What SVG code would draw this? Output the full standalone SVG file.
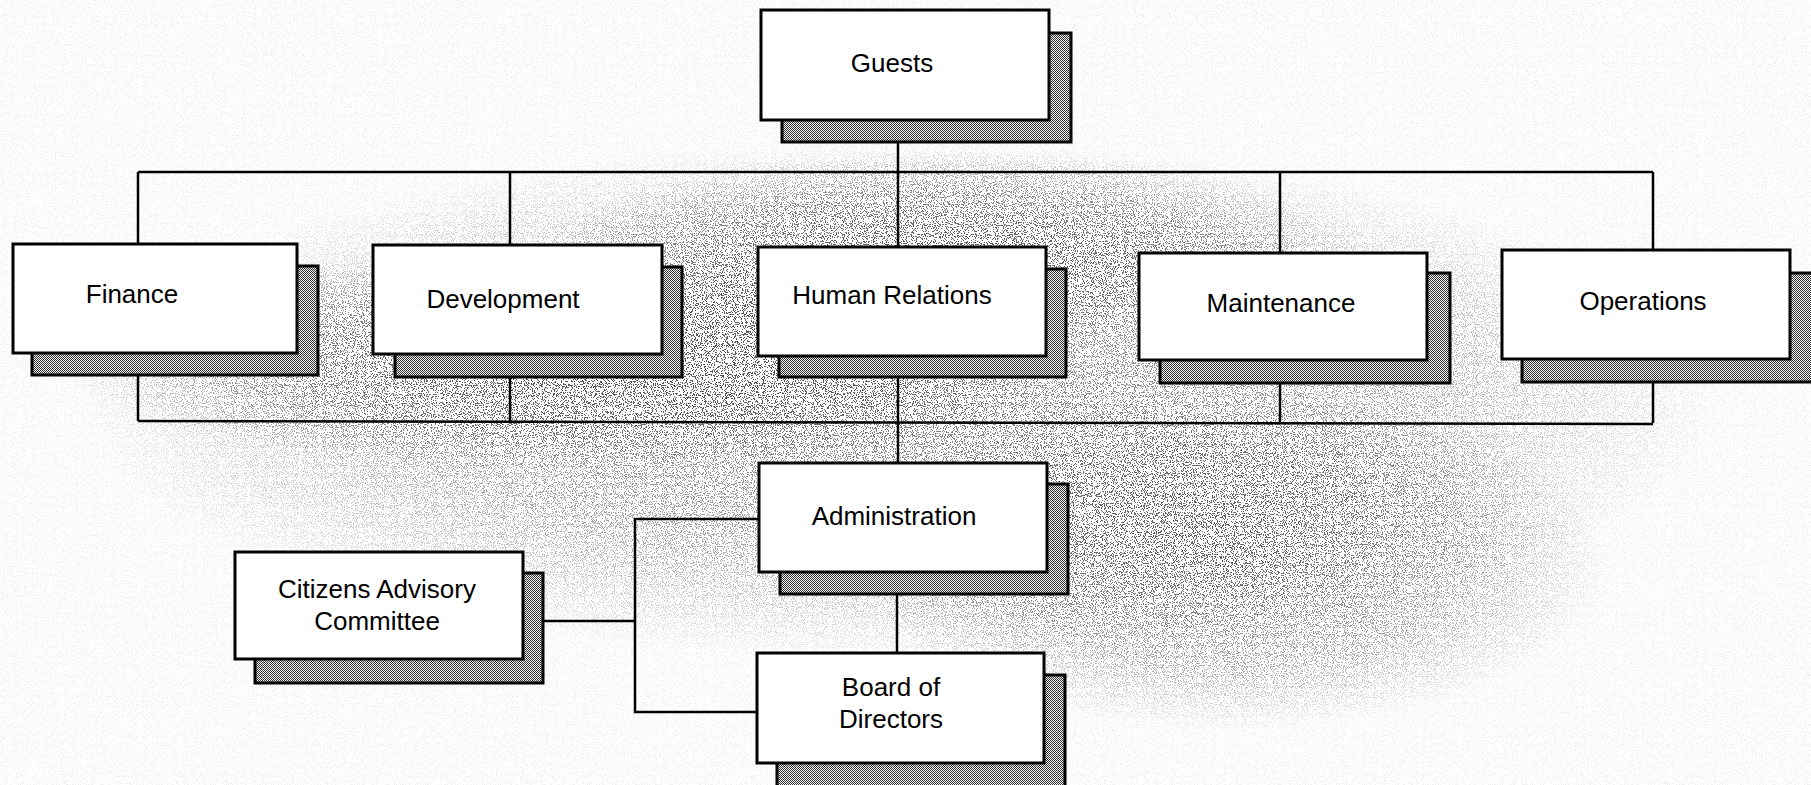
<svg xmlns="http://www.w3.org/2000/svg" width="1811" height="785" viewBox="0 0 1811 785">
  <defs>
    <pattern id="dither" width="2" height="2" patternUnits="userSpaceOnUse">
      <rect width="2" height="2" fill="#f4f4f4"/>
      <rect x="0" y="0" width="1" height="1" fill="#333"/>
      <rect x="1" y="1" width="1" height="1" fill="#333"/>
    </pattern>
    <filter id="speckle" filterUnits="userSpaceOnUse" x="0" y="0" width="1811" height="785">
      <feTurbulence type="fractalNoise" baseFrequency="0.9" numOctaves="1" seed="7" result="n"/>
      <feColorMatrix in="n" type="matrix" values="0 0 0 0 0  0 0 0 0 0  0 0 0 0 0  1.6 0 0 0 -0.3" result="a"/>
      <feComponentTransfer>
        <feFuncA type="discrete" tableValues="0 0 0 0 0 0 1 1 1 1"/>
      </feComponentTransfer>
    </filter>
    <radialGradient id="bgfade" cx="0.5" cy="0.5" r="0.5">
      <stop offset="0" stop-color="#fff" stop-opacity="0.5"/>
      <stop offset="0.6" stop-color="#fff" stop-opacity="0.3"/>
      <stop offset="1" stop-color="#fff" stop-opacity="0"/>
    </radialGradient>
    <mask id="bgmask">
      <rect width="1811" height="785" fill="#000"/>
      <rect width="1811" height="785" fill="#fff" fill-opacity="0.05"/>
      <ellipse cx="900" cy="400" rx="820" ry="260" fill="url(#bgfade)"/>
      <ellipse cx="1230" cy="560" rx="380" ry="170" fill="url(#bgfade)"/>
      <ellipse cx="550" cy="360" rx="500" ry="110" fill="url(#bgfade)"/>
      <ellipse cx="950" cy="250" rx="400" ry="100" fill="url(#bgfade)"/>
    </mask>
  </defs>
  <style>
    .box { fill: #ffffff; stroke: #000; stroke-width: 3; }
    .shadow { fill: url(#dither); stroke: #000; stroke-width: 3; }
    .lbl { font-family: "Liberation Sans", Arial, sans-serif; font-size: 26px; fill: #000; text-anchor: middle; }
    .conn { fill: none; stroke: #000; stroke-width: 2.5; }
  </style>

  <rect width="1811" height="785" fill="#ffffff"/>
  <g mask="url(#bgmask)">
    <rect width="1811" height="785" fill="#000" filter="url(#speckle)"/>
  </g>

  <g id="connectors">
    <line class="conn" x1="898" y1="142" x2="898" y2="247"/>
    <line class="conn" x1="138" y1="172" x2="1653" y2="172"/>
    <line class="conn" x1="138" y1="172" x2="138" y2="244"/>
    <line class="conn" x1="510" y1="172" x2="510" y2="245"/>
    <line class="conn" x1="1280" y1="172" x2="1280" y2="253"/>
    <line class="conn" x1="1653" y1="172" x2="1653" y2="250"/>
    <line class="conn" x1="138" y1="375" x2="138" y2="421"/>
    <line class="conn" x1="510" y1="377" x2="510" y2="421"/>
    <line class="conn" x1="1280" y1="383" x2="1280" y2="423"/>
    <line class="conn" x1="1653" y1="382" x2="1653" y2="423"/>
    <polyline class="conn" points="138,421 1653,424"/>
    <line class="conn" x1="898" y1="377" x2="898" y2="463"/>
    <line class="conn" x1="897" y1="594" x2="897" y2="653"/>
    <line class="conn" x1="543" y1="621" x2="635" y2="621"/>
    <polyline class="conn" points="759,519 635,519 635,712 757,712"/>
  </g>

  <g id="guests">
    <rect class="shadow" x="782" y="33" width="289" height="109"/>
    <rect class="box" x="761" y="10" width="288" height="110"/>
    <text class="lbl" x="892" y="72">Guests</text>
  </g>
  <g id="finance">
    <rect class="shadow" x="32" y="266" width="286" height="109"/>
    <rect class="box" x="13" y="244" width="284" height="109"/>
    <text class="lbl" x="132" y="303">Finance</text>
  </g>
  <g id="development">
    <rect class="shadow" x="395" y="267" width="287" height="110"/>
    <rect class="box" x="373" y="245" width="289" height="109"/>
    <text class="lbl" x="503" y="308">Development</text>
  </g>
  <g id="human-relations">
    <rect class="shadow" x="779" y="269" width="287" height="108"/>
    <rect class="box" x="758" y="247" width="288" height="109"/>
    <text class="lbl" x="892" y="304">Human Relations</text>
  </g>
  <g id="maintenance">
    <rect class="shadow" x="1160" y="273" width="290" height="110"/>
    <rect class="box" x="1139" y="253" width="288" height="107"/>
    <text class="lbl" x="1281" y="312">Maintenance</text>
  </g>
  <g id="operations">
    <rect class="shadow" x="1522" y="273" width="295" height="109"/>
    <rect class="box" x="1502" y="250" width="288" height="109"/>
    <text class="lbl" x="1643" y="310">Operations</text>
  </g>
  <g id="administration">
    <rect class="shadow" x="780" y="484" width="288" height="110"/>
    <rect class="box" x="759" y="463" width="288" height="109"/>
    <text class="lbl" x="894" y="525">Administration</text>
  </g>
  <g id="citizens-advisory-committee">
    <rect class="shadow" x="255" y="573" width="288" height="110"/>
    <rect class="box" x="235" y="552" width="288" height="107"/>
    <text class="lbl" x="377" y="598">Citizens Advisory</text>
    <text class="lbl" x="377" y="630">Committee</text>
  </g>
  <g id="board-of-directors">
    <rect class="shadow" x="777" y="675" width="288" height="112"/>
    <rect class="box" x="757" y="653" width="287" height="110"/>
    <text class="lbl" x="891" y="696">Board of</text>
    <text class="lbl" x="891" y="728">Directors</text>
  </g>
</svg>
